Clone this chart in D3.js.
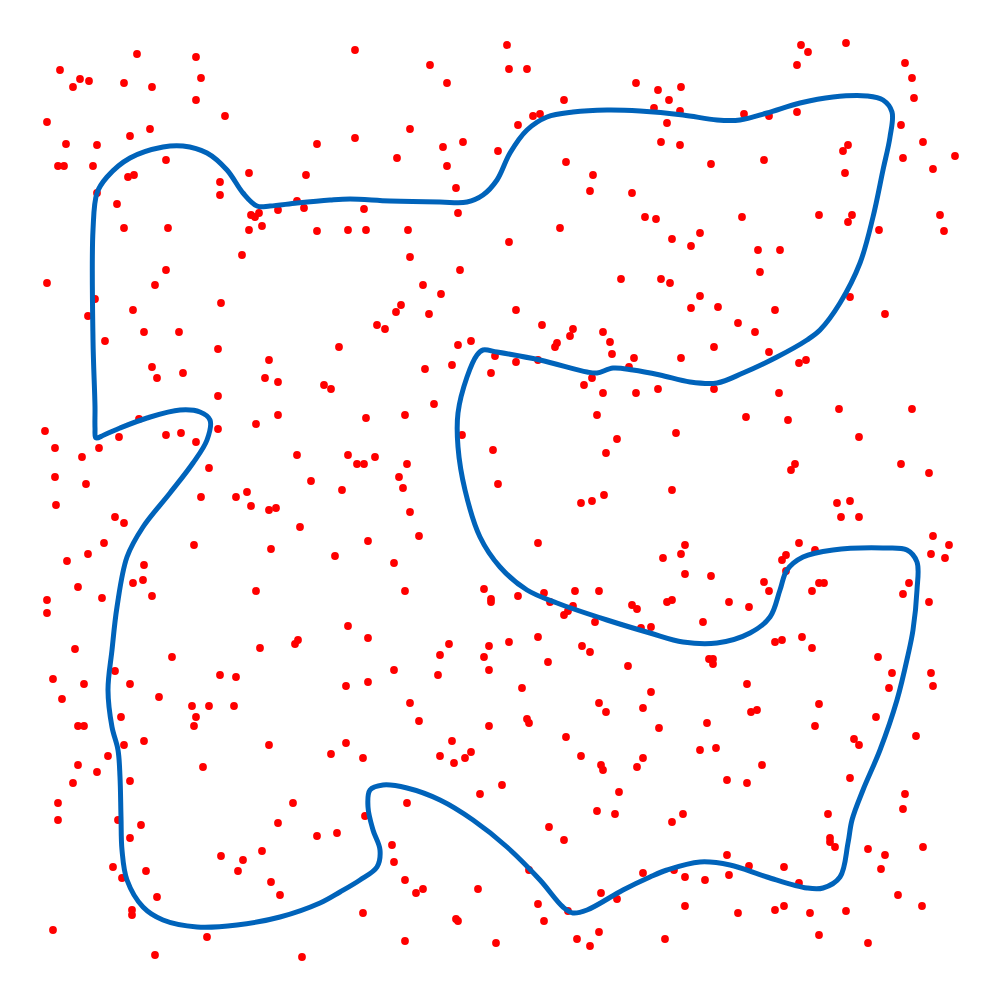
<!DOCTYPE html>
<html>
<head>
<meta charset="utf-8">
<script src="https://cdn.jsdelivr.net/npm/d3@7"></script>
<style>
  html, body { margin: 0; padding: 0; background: #ffffff; }
  svg { display: block; }
</style>
</head>
<body>
<svg id="chart" width="1000" height="1000"></svg>
<script>
// Scattered points (x, y in data units, y upward)
const pointX = [
137,196,60,80,89,73,124,152,201,196,225,47,66,97,130,150,317,58,64,93,166,128,134,249,306,220,220,97,117,297,304,278,251,255,259,124,168,249,262,317,242,47,166,155,95,88,133,221,144,179,
355,507,509,527,430,447,636,564,410,355,443,463,447,397,498,518,533,540,566,593,590,632,645,456,458,364,348,366,408,560,509,410,460,423,441,621,401,396,429,516,377,385,542,573,570,603,
801,808,846,797,905,912,914,658,681,669,654,680,667,744,769,797,661,680,711,764,848,843,845,901,923,903,955,933,656,742,819,852,848,940,944,879,672,700,691,758,780,760,661,670,700,691,718,775,850,885,738,755,
105,218,339,269,152,157,183,265,278,324,331,218,278,139,256,218,45,119,166,181,196,55,99,82,297,209,55,86,311,201,236,247,251,269,276,56,115,124,300,104,194,271,335,67,88,144,143,133,152,78,102,47,47,256,75,260,295,298,
458,471,557,555,610,612,634,425,452,495,516,538,491,592,584,603,636,629,434,405,366,597,462,493,617,606,348,357,364,375,407,399,403,342,498,410,581,592,604,368,419,538,394,405,484,491,491,518,544,550,575,599,573,568,564,632,637,595,641,348,368,449,489,509,538,582,
714,681,769,799,806,658,714,779,839,912,746,788,676,859,795,791,901,929,672,837,850,841,859,933,949,931,945,799,815,786,782,685,681,663,685,711,764,769,786,819,824,812,909,903,929,667,672,729,749,703,651,802,775,782,812,
172,115,53,84,130,220,236,62,159,192,209,234,196,194,121,78,84,144,124,269,331,108,78,203,97,73,130,58,293,58,118,141,278,317,337,130,262,221,243,238,113,122,146,271,280,157,132,132,53,207,155,302,
440,484,590,548,489,394,438,628,346,368,522,410,599,606,643,419,489,527,529,566,346,452,363,440,454,465,471,581,601,603,637,643,502,480,619,407,597,615,365,549,564,392,394,529,643,405,416,423,478,601,617,538,568,544,363,456,458,599,577,590,405,496,
709,713,713,878,892,889,931,933,651,747,819,751,757,659,707,815,876,854,859,916,700,716,762,727,747,850,905,903,683,672,828,830,830,835,868,885,881,923,727,749,674,685,705,729,784,799,898,922,685,738,775,784,810,846,819,868,665
];
const pointY = [
946,943,930,921,919,913,917,913,922,900,884,878,856,855,864,871,856,834,834,834,840,823,825,827,825,818,805,807,796,799,792,790,785,783,787,772,772,770,774,769,745,717,730,715,701,684,690,697,668,668,
950,955,931,931,935,917,917,900,871,862,853,858,834,842,849,875,884,886,838,825,809,807,783,812,787,791,770,770,770,772,758,743,730,715,706,721,695,688,686,690,675,671,675,671,664,668,
955,948,957,935,937,922,902,910,913,900,892,889,877,886,884,888,858,855,836,840,855,849,827,875,858,842,844,831,781,783,785,785,778,785,769,770,761,767,754,750,750,728,721,717,704,692,693,690,703,686,677,668,
659,651,653,640,633,622,627,622,618,615,611,604,585,581,576,571,569,563,565,567,558,552,552,543,545,532,523,516,519,503,503,508,494,490,492,495,483,477,473,457,455,451,444,439,446,435,420,417,404,413,402,400,387,409,351,352,356,360,
655,659,657,653,658,646,642,631,635,644,638,640,627,622,615,607,607,633,596,585,582,585,565,550,561,547,545,536,536,543,536,523,512,510,516,488,497,499,505,459,464,457,437,409,411,401,398,404,407,398,409,409,394,389,385,395,391,378,372,374,362,356,354,358,363,354,
653,642,648,637,640,611,611,607,591,591,583,580,567,563,536,530,536,527,510,497,499,483,483,464,455,446,442,457,450,445,440,455,446,442,426,424,418,409,429,417,417,409,417,406,398,398,400,398,393,378,373,363,358,360,352,
343,329,321,316,316,325,323,301,303,294,294,294,283,274,283,274,274,259,255,255,246,244,235,233,228,217,219,197,197,180,180,175,177,164,167,162,149,144,140,129,133,122,129,118,105,103,90,85,70,63,45,43,
345,343,348,338,330,330,325,334,314,318,312,297,297,288,292,279,274,281,277,263,257,259,242,244,237,242,248,244,235,230,233,242,215,206,208,197,189,186,184,173,160,155,138,130,127,120,107,111,111,107,101,96,89,79,87,81,79,68,61,54,59,57,
341,341,336,343,327,312,327,314,308,316,296,288,290,272,277,274,283,261,255,264,250,252,235,220,217,222,206,191,186,178,186,162,158,153,151,145,131,153,145,134,130,123,120,125,133,117,105,94,94,87,90,94,87,89,65,57,61
];

// Closed boundary curve
const curveX = [
93,93,97,107,130,163,183,207,227,243,257,270,297,330,350,390,440,467,483,497,510,527,547,573,607,640,683,717,740,767,800,833,867,883,892,890,883,873,860,840,820,807,777,743,717,690,660,633,613,597,587,540,497,483,477,467,458,458,465,480,500,527,557,607,650,683,717,750,770,780,787,803,833,883,907,917,917,913,908,897,880,863,852,848,840,823,807,767,730,700,667,650,623,587,573,563,540,507,473,440,407,383,370,368,373,380,377,360,340,320,280,237,197,163,143,127,122,121,120,118,112,108,112,117,127,143,170,193,207,210,200,180,147,120,104,96,95,95
];
const curveY = [
660,770,807,823,842,853,854,847,830,807,794,794,797,800,801,799,798,798,805,820,847,870,883,888,890,889,885,880,880,887,897,903,904,900,888,863,830,783,737,697,670,660,643,627,617,618,625,630,632,627,628,640,648,650,645,623,587,553,510,463,433,410,397,380,367,358,357,367,383,410,430,443,450,452,450,438,410,370,345,300,250,210,180,157,123,112,112,123,135,138,130,123,110,90,87,93,120,153,180,200,212,215,210,193,170,150,133,120,108,97,83,75,73,80,93,120,150,183,223,250,273,310,350,393,443,473,507,537,560,580,588,590,582,572,565,562,572,593
];

const W = 1000, H = 1000;
const x = d3.scaleLinear().domain([0, 1000]).range([0, W]);
const y = d3.scaleLinear().domain([0, 1000]).range([H, 0]);

const svg = d3.select("#chart");

const points = pointX.map((v, i) => ({ x: v, y: pointY[i] }));
const curvePts = curveX.map((v, i) => [v, curveY[i]]);

svg.append("g")
  .selectAll("circle")
  .data(points)
  .join("circle")
  .attr("cx", d => x(d.x))
  .attr("cy", d => y(d.y))
  .attr("r", 3.9)
  .attr("fill", "#ff0000");

const line = d3.line()
  .x(d => x(d[0]))
  .y(d => y(d[1]))
  .curve(d3.curveCatmullRomClosed.alpha(0.5));

svg.append("path")
  .datum(curvePts)
  .attr("d", line)
  .attr("fill", "none")
  .attr("stroke", "#0063ba")
  .attr("stroke-width", 5)
  .attr("stroke-linejoin", "round")
  .attr("stroke-linecap", "round");
</script>
</body>
</html>
